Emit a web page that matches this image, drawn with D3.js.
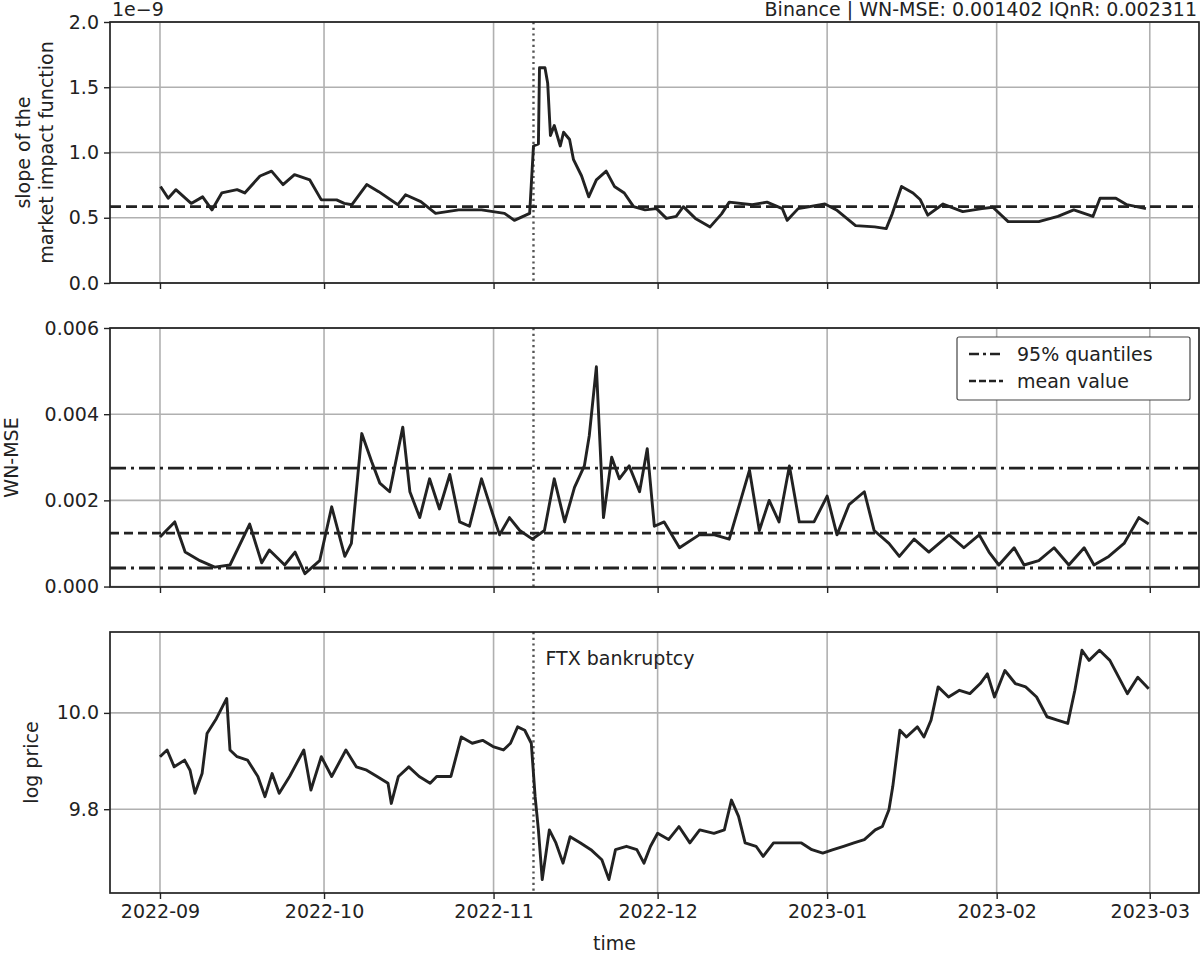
<!DOCTYPE html>
<html>
<head>
<meta charset="utf-8">
<script src="https://cdn.jsdelivr.net/npm/d3@7"></script>
<style>
  body { margin: 0; background: #fff; }
  svg { font-family: "DejaVu Sans", sans-serif; }
</style>
</head>
<body>
<svg id="chart" width="1200" height="958"></svg>
<script>
// days counted from 2022-09-01 (UTC)
const slopeDays = [0.1, 1.5, 2.9, 5.7, 7.8, 9.5, 11.3, 14.1, 15.5, 18.3, 20.4, 22.5, 24.6, 27.4, 29.5, 32.3, 33.7, 35.1, 37.8, 40, 43.5, 44.9, 47.7, 50.4, 54.6, 58.8, 63, 64.8, 67.6, 68.3, 69.2, 69.4, 70.4, 70.9, 71.4, 72.1, 73.2, 73.8, 74.9, 75.6, 77.1, 78.4, 79.8, 81.6, 83.1, 84.9, 86.6, 88.7, 90.8, 92.6, 94.4, 95.7, 97.9, 100.6, 102.7, 104.1, 108.3, 111, 113.8, 114.7, 116.7, 121.6, 123.7, 127.2, 130.7, 132.8, 133.9, 135.6, 137.7, 139, 140.4, 143.2, 146.8, 150.3, 152.3, 155.1, 160.7, 164.2, 167.1, 170.6, 171.9, 174.8, 176.8, 180.3];
const slopeVals = [0.74, 0.65, 0.715, 0.61, 0.66, 0.56, 0.69, 0.715, 0.69, 0.82, 0.857, 0.754, 0.83, 0.79, 0.637, 0.637, 0.61, 0.6, 0.754, 0.7, 0.6, 0.676, 0.624, 0.534, 0.56, 0.56, 0.534, 0.48, 0.534, 1.05, 1.065, 1.65, 1.65, 1.53, 1.13, 1.207, 1.05, 1.155, 1.1, 0.948, 0.82, 0.66, 0.79, 0.857, 0.74, 0.69, 0.585, 0.56, 0.57, 0.495, 0.51, 0.585, 0.495, 0.43, 0.53, 0.62, 0.6, 0.62, 0.57, 0.48, 0.57, 0.605, 0.56, 0.44, 0.43, 0.417, 0.53, 0.74, 0.69, 0.64, 0.52, 0.605, 0.547, 0.57, 0.58, 0.47, 0.47, 0.51, 0.56, 0.51, 0.65, 0.65, 0.6, 0.57];
const slopeMean = 0.585;
const slopeTicks = [0, 0.5, 1.0, 1.5, 2.0];

const mseDays = [0, 2.7, 4.6, 7.3, 10, 12.8, 16.4, 18.6, 20, 22.8, 24.7, 26.5, 29.2, 31.4, 33.8, 35, 36.9, 38.7, 40.2, 42, 44.4, 45.7, 47.5, 49.3, 51.1, 53, 54.8, 56.6, 58.8, 60.8, 62.1, 63.9, 65.8, 68.1, 70.3, 72.1, 74, 75.8, 77.6, 78.5, 79.8, 81.1, 82.6, 84, 85.8, 87.7, 89.1, 90.4, 92.2, 95, 98.6, 101.4, 104.1, 107.8, 109.6, 111.4, 113.2, 115.1, 116.9, 119.6, 122, 123.8, 126, 128.8, 130.6, 133.3, 135.2, 137.9, 140.6, 144.3, 147, 149.8, 151.6, 153.4, 156.2, 158, 160.7, 163.5, 166.2, 169, 170.8, 173.5, 176.3, 179, 180.8];
const mseVals = [1.15, 1.5, 0.8, 0.6, 0.45, 0.5, 1.45, 0.55, 0.85, 0.5, 0.8, 0.3, 0.6, 1.85, 0.7, 1.0, 3.55, 2.9, 2.4, 2.2, 3.7, 2.2, 1.6, 2.5, 1.8, 2.6, 1.5, 1.4, 2.5, 1.7, 1.2, 1.6, 1.3, 1.1, 1.3, 2.5, 1.5, 2.3, 2.8, 3.5, 5.1, 1.6, 3.0, 2.5, 2.8, 2.2, 3.2, 1.4, 1.5, 0.9, 1.2, 1.2, 1.1, 2.7, 1.3, 2.0, 1.5, 2.8, 1.5, 1.5, 2.1, 1.2, 1.9, 2.2, 1.3, 1.0, 0.7, 1.1, 0.8, 1.2, 0.9, 1.2, 0.8, 0.5, 0.9, 0.5, 0.6, 0.9, 0.5, 0.9, 0.5, 0.7, 1.0, 1.6, 1.45].map(v => v / 1000);
const mseMean = 0.00124;
const mseQuantiles = [0.00043, 0.00275];
const mseTicks = [0, 0.002, 0.004, 0.006];

const priceDays = [0, 1.3, 2.6, 4.5, 5.5, 6.4, 7.7, 8.6, 10.3, 12.2, 12.8, 14.1, 16, 17.9, 19.2, 20.5, 21.8, 23.7, 26.3, 27.6, 29.5, 31.4, 34, 35.9, 37.8, 39.7, 41.7, 42.3, 43.6, 45.5, 47.4, 49.4, 50.6, 53.2, 55.1, 57.1, 59, 60.9, 62.8, 64.1, 65.4, 66.7, 67.9, 68.6, 69.2, 69.9, 71.2, 72.4, 73.7, 75, 76.9, 78.8, 80.8, 82.1, 83.3, 85.3, 87.2, 88.5, 89.7, 91, 93, 94.9, 96.9, 98.7, 101.3, 103.2, 104.5, 105.8, 107, 109, 110.3, 112.2, 114.7, 117.3, 119.2, 121.2, 123.1, 125, 126.9, 128.8, 130.8, 132.1, 133.3, 134, 135.3, 136.5, 138.5, 139.7, 141, 142.3, 144.2, 146.2, 148.1, 150, 151.3, 152.6, 154.5, 156.4, 158.3, 160.3, 162.2, 164.1, 166, 167.3, 168.6, 169.9, 171.8, 173.7, 175, 176.9, 178.8, 180.8];
const priceVals = [9.909, 9.923, 9.888, 9.902, 9.881, 9.833, 9.874, 9.957, 9.988, 10.030, 9.923, 9.909, 9.902, 9.868, 9.826, 9.874, 9.833, 9.868, 9.923, 9.840, 9.909, 9.868, 9.923, 9.888, 9.881, 9.868, 9.854, 9.812, 9.868, 9.888, 9.868, 9.854, 9.868, 9.868, 9.950, 9.937, 9.943, 9.930, 9.923, 9.937, 9.971, 9.964, 9.937, 9.826, 9.757, 9.654, 9.757, 9.730, 9.688, 9.743, 9.730, 9.716, 9.695, 9.654, 9.716, 9.723, 9.716, 9.688, 9.723, 9.750, 9.737, 9.764, 9.730, 9.757, 9.750, 9.757, 9.819, 9.785, 9.730, 9.723, 9.702, 9.730, 9.730, 9.730, 9.716, 9.709, 9.716, 9.723, 9.730, 9.737, 9.757, 9.764, 9.799, 9.847, 9.964, 9.950, 9.971, 9.950, 9.985, 10.054, 10.033, 10.047, 10.040, 10.061, 10.081, 10.033, 10.088, 10.061, 10.054, 10.033, 9.992, 9.985, 9.978, 10.047, 10.130, 10.109, 10.130, 10.109, 10.081, 10.040, 10.074, 10.050];
const priceTicks = [9.8, 10.0];

const monthTicks = ["2022-09", "2022-10", "2022-11", "2022-12", "2023-01", "2023-02", "2023-03"];
const eventDay = 68.3;
const eventLabel = "FTX bankruptcy";
const title = "Binance | WN-MSE: 0.001402 IQnR: 0.002311";

const base = Date.UTC(2022, 8, 1);
const toDate = d => new Date(base + d * 864e5);

const svg = d3.select("#chart");
const left = 110, right = 1199;
const x = d3.scaleUtc().domain([toDate(-9.14), toDate(190)]).range([left, right]);
const tickDates = monthTicks.map(s => d3.utcParse("%Y-%m")(s));

const panels = [
  { top: 22, bottom: 283, domain: [0, 2.0], ticks: slopeTicks, fmt: d3.format(".1f"), days: slopeDays, vals: slopeVals },
  { top: 328, bottom: 587, domain: [-0.0000105, 0.006], ticks: mseTicks, fmt: d3.format(".3f"), days: mseDays, vals: mseVals },
  { top: 632, bottom: 893, domain: [9.626, 10.168], ticks: priceTicks, fmt: d3.format(".1f"), days: priceDays, vals: priceVals }
];

panels.forEach((p, i) => {
  p.y = d3.scaleLinear().domain(p.domain).range([p.bottom, p.top]);
  const g = svg.append("g");
  const clipId = "clip" + i;
  svg.append("clipPath").attr("id", clipId).append("rect")
    .attr("x", left).attr("y", p.top).attr("width", right - left).attr("height", p.bottom - p.top);

  // grid
  g.selectAll(".vg").data(tickDates).join("line")
    .attr("x1", d => x(d)).attr("x2", d => x(d)).attr("y1", p.top).attr("y2", p.bottom)
    .attr("stroke", "#b0b0b0").attr("stroke-width", 1.6);
  g.selectAll(".hg").data(p.ticks).join("line")
    .attr("x1", left).attr("x2", right).attr("y1", d => p.y(d)).attr("y2", d => p.y(d))
    .attr("stroke", "#b0b0b0").attr("stroke-width", 1.6);

  // axes
  const ya = svg.append("g").attr("transform", `translate(${left},0)`)
    .call(d3.axisLeft(p.y).tickValues(p.ticks).tickFormat(p.fmt).tickSize(6).tickPadding(5));
  ya.select(".domain").remove();
  ya.selectAll("line").attr("stroke", "#222").attr("stroke-width", 1.4);
  ya.selectAll("text").attr("font-size", 19).attr("fill", "#222").attr("font-family", "DejaVu Sans");

  const xa = svg.append("g").attr("transform", `translate(0,${p.bottom})`)
    .call(d3.axisBottom(x).tickValues(tickDates).tickSize(6).tickFormat(i === 2 ? d3.utcFormat("%Y-%m") : ""));
  xa.select(".domain").remove();
  xa.selectAll("line").attr("stroke", "#222").attr("stroke-width", 1.4);
  xa.selectAll("text").attr("font-size", 19).attr("fill", "#222").attr("font-family", "DejaVu Sans").attr("dy", "0.85em");

  // event line
  g.append("line")
    .attr("x1", x(toDate(eventDay))).attr("x2", x(toDate(eventDay)))
    .attr("y1", p.top).attr("y2", p.bottom)
    .attr("stroke", "#555").attr("stroke-width", 2.4).attr("stroke-dasharray", "2.2,3.5");

  // reference lines
  const hline = (v, dash) => g.append("line")
    .attr("x1", left).attr("x2", right).attr("y1", p.y(v)).attr("y2", p.y(v))
    .attr("stroke", "#222").attr("stroke-width", 2.8).attr("stroke-dasharray", dash);
  if (i === 0) hline(slopeMean, "11,5");
  if (i === 1) {
    hline(mseMean, "9,5");
    mseQuantiles.forEach(q => hline(q, "16,5,3,5"));
  }

  // data
  const line = d3.line().x((d, k) => x(toDate(d))).y((d, k) => p.y(p.vals[k]));
  g.append("path").datum(p.days)
    .attr("clip-path", `url(#${clipId})`)
    .attr("d", line).attr("fill", "none")
    .attr("stroke", "#222").attr("stroke-width", 2.9).attr("stroke-linejoin", "round");

  // frame
  svg.append("rect").attr("x", left).attr("y", p.top).attr("width", right - left).attr("height", p.bottom - p.top)
    .attr("fill", "none").attr("stroke", "#222").attr("stroke-width", 1.7);
});

const txt = (xp, yp, s, size, anchor, rot) => {
  const t = svg.append("text").attr("font-size", size).attr("fill", "#222")
    .attr("text-anchor", anchor || "start").text(s);
  if (rot) t.attr("transform", `translate(${xp},${yp}) rotate(-90)`);
  else t.attr("x", xp).attr("y", yp);
  return t;
};

txt(112, 16, "1e\u22129", 19);
txt(1197, 16, title, 19, "end");
txt(30, panels[0].y(1.0), "slope of the", 19, "middle", true);
txt(53, panels[0].y(1.0), "market impact function", 19, "middle", true);
txt(18, (panels[1].top + panels[1].bottom) / 2, "WN-MSE", 19, "middle", true);
txt(38, (panels[2].top + panels[2].bottom) / 2, "log price", 19, "middle", true);
txt((left + right) / 2 - 40, 950, "time", 19, "middle");
txt(x(toDate(eventDay)) + 12, 665, eventLabel, 19);

// legend
const lg = svg.append("g").attr("transform", "translate(957,337)");
lg.append("rect").attr("width", 233).attr("height", 63).attr("rx", 2)
  .attr("fill", "#fff").attr("stroke", "#444").attr("stroke-width", 1.2);
[["95% quantiles", "10,4,3,4"], ["mean value", "7,3"]].forEach(([label, dash], k) => {
  lg.append("line").attr("x1", 12).attr("x2", 46).attr("y1", 17 + k * 27).attr("y2", 17 + k * 27)
    .attr("stroke", "#222").attr("stroke-width", 2.6).attr("stroke-dasharray", dash);
  lg.append("text").attr("x", 60).attr("y", 17 + k * 27).attr("dy", "0.35em")
    .attr("font-size", 19).attr("fill", "#222").text(label);
});
</script>
</body>
</html>
